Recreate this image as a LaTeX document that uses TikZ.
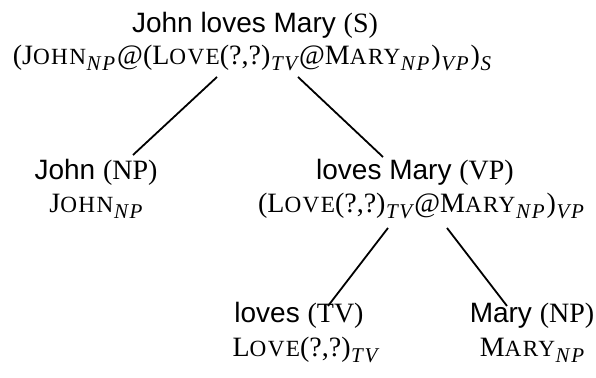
\documentclass[tikz,border=0pt]{standalone}
\usepackage{fontspec}
\setmainfont{Liberation Serif}
\setsansfont{Liberation Sans}
\usepackage{tikz}
\newcommand\fakesc[2]{#1{\fontsize{11.6}{10}\selectfont\addfontfeature{LetterSpace=6}#2}}
\newcommand\ssub[1]{\kern0.3pt\raisebox{-2.6pt}{\fontsize{10.5}{10}\selectfont\itshape\addfontfeature{LetterSpace=8}#1}\kern1pt}

\begin{document}
\begin{tikzpicture}[x=0.5pt,y=-0.5pt,every node/.style={inner sep=0pt,anchor=base,font=\fontsize{14}{17}\selectfont},word/.style={},sem/.style={},edge/.style={line width=0.9pt}]
\useasboundingbox (0,0) rectangle (596,378);
\node[word] (s) at (255,33) {\sffamily John loves Mary \rmfamily(S)};
\node[sem] (sf) at (253,65) {(\fakesc{J}{OHN}\ssub{NP}@(\fakesc{L}{OVE}(?,?)\ssub{TV}@\fakesc{M}{ARY}\ssub{NP})\ssub{VP})\ssub{S}};
\node[word] (np) at (96,180) {\sffamily John \rmfamily(NP)};
\node[sem] (npf) at (97,213) {\fakesc{J}{OHN}\ssub{NP}};
\node[word] (vp) at (415,180) {\sffamily loves Mary \rmfamily(VP)};
\node[sem] (vpf) at (422,213) {(\fakesc{L}{OVE}(?,?)\ssub{TV}@\fakesc{M}{ARY}\ssub{NP})\ssub{VP}};
\node[word] (tv) at (299,323) {\sffamily loves \rmfamily(TV)};
\node[sem] (tvf) at (306,357) {\fakesc{L}{OVE}(?,?)\ssub{TV}};
\node[word] (obj) at (532,323) {\sffamily Mary \rmfamily(NP)};
\node[sem] (objf) at (533,357) {\fakesc{M}{ARY}\ssub{NP}};
\draw[edge] ([shift={(-36,12)}]sf.base) -- ([shift={(37,-25)}]np.base);
\draw[edge] ([shift={(45,12)}]sf.base) -- ([shift={(-32,-23)}]vp.base);
\draw[edge] ([shift={(-34,15)}]vpf.base) -- ([shift={(29,-17)}]tv.base);
\draw[edge] ([shift={(25,15)}]vpf.base) -- ([shift={(-25,-17)}]obj.base);
\end{tikzpicture}
\end{document}
